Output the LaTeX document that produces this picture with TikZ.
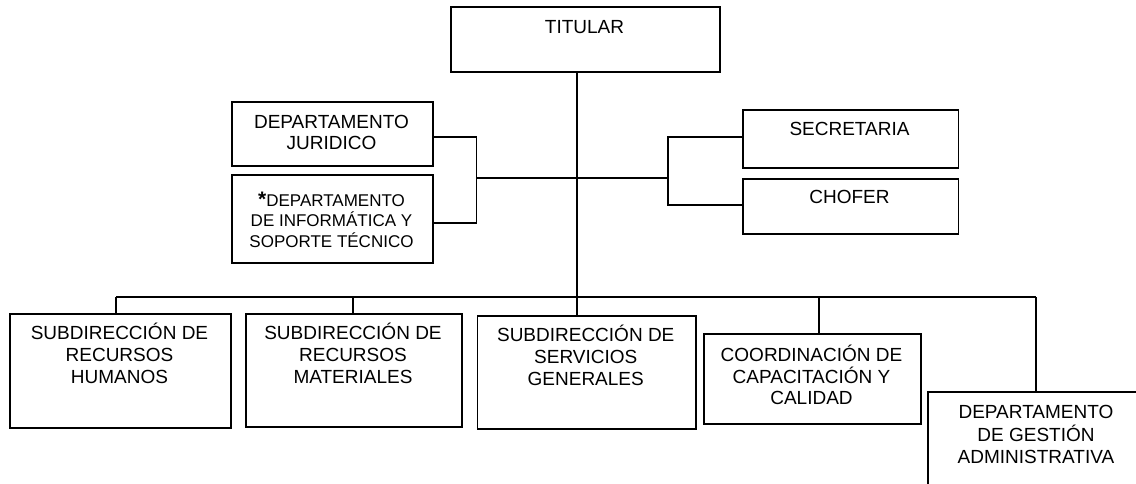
\documentclass[tikz,border=0pt]{standalone}
\usepackage{fontspec}
\setmainfont{Liberation Sans}
\begin{document}
\begin{tikzpicture}[x=1pt,y=-1pt,
  box/.style={draw, line width=1.8pt, fill=white, inner sep=0pt, anchor=north west},
  txt/.style={font=\fontsize{19}{22}\selectfont, align=center, inner sep=0pt, anchor=base},
  con/.style={line width=1.8pt}]
\useasboundingbox (0,0) rectangle (1136,483);
\clip (0,0) rectangle (1136,483);
% boxes
\node[box, minimum width=269pt, minimum height=65pt] (tit) at (450,5.7) {};
\node[box, minimum width=201pt, minimum height=64pt] (jur) at (231,100.7) {};
\node[box, minimum width=201pt, minimum height=88pt] (inf) at (231,174) {};
\node[box, minimum width=215.5pt, minimum height=58pt] (sec) at (742,109) {};
\node[box, minimum width=215.5pt, minimum height=55pt] (cho) at (742,178) {};
\node[box, minimum width=221pt, minimum height=114pt] (b1) at (9,312.7) {};
\node[box, minimum width=216pt, minimum height=113pt] (b2) at (245,312.7) {};
\node[box, minimum width=218.5pt, minimum height=113pt] (b3) at (476.5,314.7) {};
\node[box, minimum width=217pt, minimum height=90pt] (b4) at (703,332.7) {};
\node[box, minimum width=218pt, minimum height=110pt] (b5) at (927,391) {};
% texts (anchor base = baseline of the last line)
\node[txt] (ttit) at (584.5,33.8) {TITULAR};
\node[txt, font=\fontsize{19}{21}\selectfont] (tjur) at (331.5,149.8) {DEPARTAMENTO\\JURIDICO};
\node[txt, font=\fontsize{17}{20.5}\selectfont] (tinf) at (331.5,247) {{\fontsize{21}{20}\selectfont\bfseries *}DEPARTAMENTO\\DE INFORMÁTICA Y\\SOPORTE TÉCNICO};
\node[txt] (tsec) at (849.5,135.8) {SECRETARIA};
\node[txt] (tcho) at (849.5,203.8) {CHOFER};
\node[txt] (tb1) at (119.5,383.8) {SUBDIRECCIÓN DE\\RECURSOS\\HUMANOS};
\node[txt] (tb2) at (353,383.8) {SUBDIRECCIÓN DE\\RECURSOS\\MATERIALES};
\node[txt] (tb3) at (585.75,385.8) {SUBDIRECCIÓN DE\\SERVICIOS\\GENERALES};
\node[txt, font=\fontsize{19}{21.5}\selectfont] (tb4) at (811.5,404.8) {COORDINACIÓN DE\\CAPACITACIÓN Y\\CALIDAD};
\node[txt, font=\fontsize{19}{22.5}\selectfont] (tb5) at (1036,463.5) {DEPARTAMENTO\\DE GESTIÓN\\ADMINISTRATIVA};
% junction coordinates
\coordinate (tx) at (577,0);
\coordinate (lj) at (476.5,178);
\coordinate (rj) at (668,178);
\coordinate (busL) at (116,297);
\coordinate (d2) at (353,297);
\coordinate (d4) at (819,297);
\coordinate (busR) at (1036,297);
% connectors
\draw[con] (tit.south -| tx) -- (b3.north -| tx);
\draw[con] ([yshift=-3.3pt]jur.east) -| (lj) |- ([yshift=-4pt]inf.east);
\draw[con] (lj) -- (lj -| tx) -- (rj);
\draw[con] ([yshift=2pt]sec.west) -| (rj) |- ([yshift=1.5pt]cho.west);
\draw[con] (busL) -- (busR);
\draw[con] (busL) -- (busL |- b1.north);
\draw[con] (d2) -- (d2 |- b2.north);
\draw[con] (d4) -- (d4 |- b4.north);
\draw[con] (busR) -- (busR |- b5.north);
\end{tikzpicture}
\end{document}
